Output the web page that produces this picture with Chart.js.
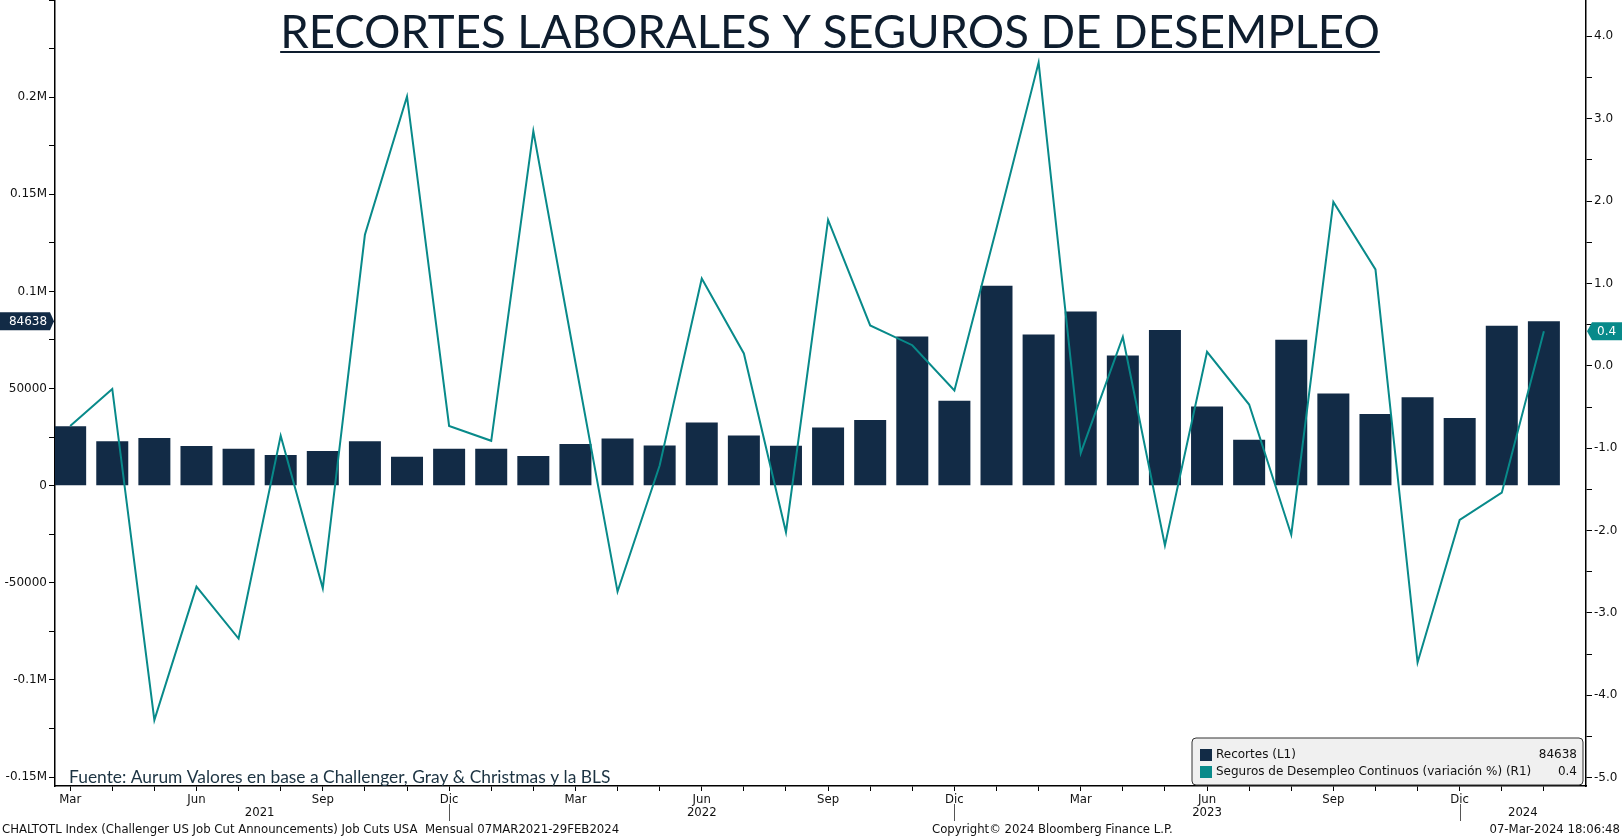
<!DOCTYPE html>
<html>
<head>
<meta charset="utf-8">
<title>Recortes laborales y seguros de desempleo</title>
<script src="https://cdn.jsdelivr.net/npm/chart.js@4.4.1/dist/chart.umd.min.js"></script>
<style>
  html, body { margin: 0; padding: 0; background: #fff; overflow: hidden; }
</style>
</head>
<body>
<canvas id="myChart" width="1622" height="838"></canvas>
<script>
// Meses (Mar 2021 - Feb 2024)
var meses = [
  'Mar 2021', 'Abr 2021', 'May 2021', 'Jun 2021', 'Jul 2021', 'Ago 2021', 'Sep 2021', 'Oct 2021', 'Nov 2021', 'Dic 2021',
  'Ene 2022', 'Feb 2022', 'Mar 2022', 'Abr 2022', 'May 2022', 'Jun 2022', 'Jul 2022', 'Ago 2022', 'Sep 2022', 'Oct 2022', 'Nov 2022', 'Dic 2022',
  'Ene 2023', 'Feb 2023', 'Mar 2023', 'Abr 2023', 'May 2023', 'Jun 2023', 'Jul 2023', 'Ago 2023', 'Sep 2023', 'Oct 2023', 'Nov 2023', 'Dic 2023',
  'Ene 2024', 'Feb 2024'
];
// Recortes anunciados (L1)
var recortes = [
  30603, 22913, 24586, 20476, 18942, 15723, 17895, 22822, 14875, 19052,
  19064, 15245, 21387, 24286, 20712, 32517, 25810, 20485, 29989, 33843, 76835, 43651,
  102943, 77770, 89703, 66995, 80089, 40709, 23697, 75151, 47457, 36836, 45510, 34817,
  82307, 84638
];
// Seguros de desempleo continuos, variación % (R1)
var seguros = [
  -0.73, -0.28, -4.30, -2.68, -3.31, -0.85, -2.70, 1.59, 3.27, -0.73,
  -0.91, 2.85, 0.04, -2.74, -1.21, 1.06, 0.15, -2.02, 1.77, 0.49, 0.25, -0.30,
  1.67, 3.68, -1.06, 0.35, -2.18, 0.17, -0.47, -2.05, 1.99, 1.17, -3.60, -1.87,
  -1.54, 0.42
];
var mesesEtiqueta = ['Mar', 'Jun', 'Sep', 'Dic'];
var ticksIzq = [-150000, -100000, -50000, 0, 50000, 100000, 150000, 200000];
var ticksDer = [-5, -4, -3, -2, -1, 0, 1, 2, 3, 4];

var titulo = 'RECORTES LABORALES Y SEGUROS DE DESEMPLEO';
var fuente = 'Fuente: Aurum Valores en base a Challenger, Gray & Christmas y la BLS';
var pieIzq = 'CHALTOTL Index (Challenger US Job Cut Announcements) Job Cuts USA  Mensual 07MAR2021-29FEB2024';
var pieCentro = 'Copyright\u00a9 2024 Bloomberg Finance L.P.';
var pieDer = '07-Mar-2024 18:06:48';

var AZUL = '#122b46';
var VERDE = '#088a8a';
var NARROW = "'Liberation Sans Narrow', 'DejaVu Sans Condensed', 'Arial Narrow', sans-serif";
var DEJAVU = "'DejaVu Sans', Verdana, sans-serif";

function etiquetaIzq(v) {
  if (ticksIzq.indexOf(v) < 0) return '';
  return Math.abs(v) >= 100000 ? (v / 1e6) + 'M' : String(v);
}

var decoracion = {
  id: 'decoracion',
  afterDraw: function (chart) {
    var ctx = chart.ctx, area = chart.chartArea;
    var x = chart.scales.x, yL = chart.scales.yL, yR = chart.scales.yR;
    var n = meses.length;
    ctx.save();

    // titulo subrayado
    ctx.font = '45.5px Lato';
    ctx.fillStyle = '#0e1d2e';
    ctx.textAlign = 'center';
    ctx.textBaseline = 'alphabetic';
    ctx.fillText(titulo, 830, 48);
    var tw = ctx.measureText(titulo).width;
    ctx.fillRect(830 - tw / 2, 51, tw, 2);

    // fuente
    ctx.font = '17.4px Lato';
    ctx.fillStyle = '#1c3342';
    ctx.textAlign = 'left';
    ctx.textBaseline = 'middle';
    ctx.fillText(fuente, area.left + 14, 777);

    // leyenda
    var lw = 391, lh = 47;
    var lx = area.right - 3 - lw, ly = area.bottom - 1 - lh;
    ctx.beginPath();
    ctx.roundRect(lx, ly, lw, lh, 4);
    ctx.fillStyle = '#f0f0f0';
    ctx.fill();
    ctx.lineWidth = 1;
    ctx.strokeStyle = '#333';
    ctx.stroke();
    var filas = [
      { color: AZUL, texto: 'Recortes (L1)', valor: String(recortes[n - 1]) },
      { color: VERDE, texto: 'Seguros de Desempleo Continuos (variaci\u00f3n %) (R1)', valor: seguros[n - 1].toFixed(1) }
    ];
    ctx.font = '12px ' + DEJAVU;
    filas.forEach(function (f, k) {
      var cy = ly + 17 + k * 17;
      ctx.fillStyle = f.color;
      ctx.fillRect(lx + 8, cy - 6, 12, 12);
      ctx.fillStyle = '#111';
      ctx.textAlign = 'left';
      ctx.fillText(f.texto, lx + 24, cy);
      ctx.textAlign = 'right';
      ctx.fillText(f.valor, lx + lw - 6, cy);
    });

    // etiqueta ultimo valor izquierda
    var yv = yL.getPixelForValue(recortes[n - 1]);
    ctx.beginPath();
    ctx.moveTo(0, yv - 9);
    ctx.lineTo(area.left - 5, yv - 9);
    ctx.lineTo(area.left - 1, yv);
    ctx.lineTo(area.left - 5, yv + 9);
    ctx.lineTo(0, yv + 9);
    ctx.closePath();
    ctx.fillStyle = AZUL;
    ctx.fill();
    ctx.fillStyle = '#fff';
    ctx.textAlign = 'center';
    ctx.fillText(String(recortes[n - 1]), 28, yv + 1);

    // etiqueta ultimo valor derecha
    var yr = yR.getPixelForValue(seguros[n - 1]);
    ctx.beginPath();
    ctx.moveTo(area.right + 1, yr);
    ctx.lineTo(area.right + 6, yr - 9);
    ctx.lineTo(chart.width, yr - 9);
    ctx.lineTo(chart.width, yr + 9);
    ctx.lineTo(area.right + 6, yr + 9);
    ctx.closePath();
    ctx.fillStyle = VERDE;
    ctx.fill();
    ctx.fillStyle = '#fff';
    ctx.textAlign = 'left';
    ctx.fillText(seguros[n - 1].toFixed(1), area.right + 11, yr + 1);

    // años y separadores
    var limites = [0];
    meses.forEach(function (m, i) { if (m.indexOf('Dic') === 0) limites.push(i); });
    limites.push(n);
    ctx.strokeStyle = '#555';
    ctx.lineWidth = 1;
    for (var k = 1; k < limites.length - 1; k++) {
      var px = Math.round(x.getPixelForValue(limites[k])) + 0.5;
      ctx.beginPath();
      ctx.moveTo(px, 804);
      ctx.lineTo(px, 821);
      ctx.stroke();
    }
    ctx.font = '13px ' + NARROW;
    ctx.fillStyle = '#111';
    ctx.textAlign = 'center';
    for (var j = 0; j < limites.length - 1; j++) {
      var idx = Math.min(limites[j] + (j > 0 ? 1 : 0), n - 1);
      var anio = meses[idx].split(' ')[1];
      var cx = x.getPixelForValue((limites[j] + limites[j + 1]) / 2);
      ctx.fillText(anio, cx, 813);
    }

    // pie
    ctx.textAlign = 'left';
    ctx.fillText(pieIzq, 2, 830);
    ctx.fillText(pieCentro, 932, 830);
    ctx.textAlign = 'right';
    ctx.fillText(pieDer, chart.width - 2, 830);
    ctx.restore();
  }
};

var ctx = document.getElementById('myChart').getContext('2d');
var chart = new Chart(ctx, {
  type: 'bar',
  data: {
    datasets: [{
      type: 'line',
      label: 'Seguros de Desempleo Continuos (variación %)',
      data: seguros.map(function (v, i) { return { x: i, y: v }; }),
      yAxisID: 'yR',
      borderColor: VERDE,
      borderWidth: 2,
      pointRadius: 0,
      tension: 0,
      order: 0
    }, {
      type: 'bar',
      label: 'Recortes',
      data: recortes.map(function (v, i) { return { x: i, y: v }; }),
      yAxisID: 'yL',
      backgroundColor: AZUL,
      barPercentage: 0.76,
      categoryPercentage: 1,
      order: 1
    }]
  },
  plugins: [decoracion],
  options: {
    responsive: false,
    animation: false,
    layout: { padding: 0 },
    plugins: {
      legend: { display: false },
      tooltip: { enabled: false }
    },
    scales: {
      x: {
        type: 'linear',
        min: -0.36,
        max: 36,
        offset: false,
        afterBuildTicks: function (s) {
          s.ticks = meses.map(function (m, i) { return { value: i }; });
        },
        afterFit: function (s) { s.height = 52; s.paddingLeft = 0; s.paddingRight = 0; },
        grid: { offset: false, drawOnChartArea: false, drawTicks: true, tickLength: 5, color: '#000', tickWidth: 1 },
        border: { display: true, color: '#000', width: 1.5 },
        ticks: {
          autoSkip: false,
          maxRotation: 0,
          padding: 1,
          color: '#111',
          font: { family: NARROW, size: 13 },
          callback: function (v) {
            var m = meses[Math.round(v)];
            if (!m) return '';
            var nombre = m.split(' ')[0];
            return mesesEtiqueta.indexOf(nombre) >= 0 ? nombre : '';
          }
        }
      },
      yL: {
        axis: 'y',
        type: 'linear',
        position: 'left',
        min: -154600,
        max: 250000,
        afterBuildTicks: function (s) {
          var t = [];
          for (var v = -150000; v <= 250000; v += 25000) t.push({ value: v });
          s.ticks = t;
        },
        afterFit: function (s) { s.width = 55; s.paddingTop = 0; s.paddingBottom = 0; },
        grid: { drawOnChartArea: false, drawTicks: true, tickLength: 6, color: '#000' },
        border: { display: true, color: '#000', width: 1.5 },
        ticks: {
          padding: 2,
          color: '#111',
          font: { family: DEJAVU, size: 12 },
          callback: etiquetaIzq
        }
      },
      yR: {
        axis: 'y',
        type: 'linear',
        position: 'right',
        min: -5.1,
        max: 4.44,
        afterBuildTicks: function (s) {
          var t = [];
          for (var v = -10; v <= 8; v++) t.push({ value: v / 2 });
          s.ticks = t;
        },
        afterFit: function (s) { s.width = 36; s.paddingTop = 0; s.paddingBottom = 0; },
        grid: { drawOnChartArea: false, drawTicks: true, tickLength: 6, color: '#000' },
        border: { display: true, color: '#000', width: 1.5 },
        ticks: {
          padding: 2,
          color: '#111',
          font: { family: DEJAVU, size: 12 },
          callback: function (v) { return ticksDer.indexOf(v) >= 0 ? v.toFixed(1) : ''; }
        }
      }
    }
  }
});
</script>
</body>
</html>
